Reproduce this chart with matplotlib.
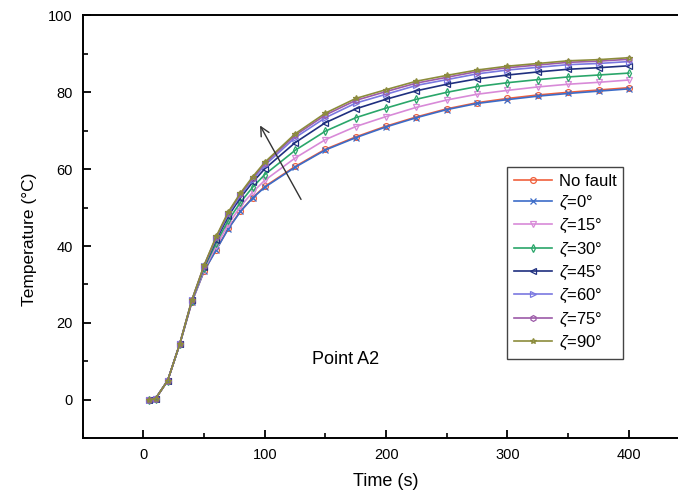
import matplotlib
matplotlib.use('Agg')
from matplotlib import pyplot as plt
from matplotlib.ticker import MultipleLocator

plt.rcParams['font.family'] = ['Liberation Sans', 'DejaVu Sans']
plt.rcParams['mathtext.fontset'] = 'custom'
plt.rcParams['mathtext.it'] = 'Liberation Sans:italic'
plt.rcParams['mathtext.rm'] = 'Liberation Sans'

# time points (s)
time = [5, 10, 20, 30, 40, 50, 60, 70, 80, 90, 100, 125, 150, 175, 200,
        225, 250, 275, 300, 325, 350, 375, 400]

# temperature (°C) for each case
no_fault = [0, 0.3, 5.0, 14.5, 25.5, 33.5, 39.1, 44.6, 49.1, 52.6, 55.5, 60.7, 65.2,
            68.4, 71.2, 73.6, 75.7, 77.3, 78.4, 79.3, 80.0, 80.6, 81.2]
zeta_0 = [0, 0.3, 5.0, 14.5, 25.5, 33.5, 39.0, 44.5, 49.0, 52.5, 55.3, 60.5, 65.0,
          68.2, 71.0, 73.4, 75.5, 77.1, 78.1, 79.0, 79.7, 80.3, 80.9]
zeta_15 = [0, 0.3, 5.0, 14.5, 25.6, 33.9, 40.0, 45.7, 50.3, 54.0, 57.1, 62.9, 67.7,
           71.1, 73.7, 76.1, 78.0, 79.5, 80.5, 81.4, 82.1, 82.6, 83.2]
zeta_30 = [0, 0.3, 5.0, 14.5, 25.8, 34.3, 40.8, 46.7, 51.4, 55.3, 58.6, 64.9, 69.9,
           73.4, 75.9, 78.2, 80.0, 81.5, 82.5, 83.3, 84.0, 84.5, 85.0]
zeta_45 = [0, 0.3, 5.0, 14.6, 25.9, 34.6, 41.6, 47.8, 52.6, 56.6, 60.1, 66.9, 72.1,
           75.7, 78.2, 80.4, 82.1, 83.5, 84.5, 85.3, 86.0, 86.4, 86.9]
zeta_60 = [0, 0.3, 5.0, 14.6, 25.9, 34.8, 42.1, 48.4, 53.2, 57.3, 61.0, 68.2, 73.4,
           77.2, 79.5, 81.8, 83.3, 84.8, 85.8, 86.5, 87.2, 87.5, 88.0]
zeta_75 = [0, 0.3, 5.0, 14.6, 26.0, 34.9, 42.3, 48.7, 53.6, 57.7, 61.5, 68.8, 74.1,
           77.9, 80.2, 82.4, 83.9, 85.4, 86.4, 87.1, 87.8, 88.1, 88.6]
zeta_90 = [0, 0.3, 5.0, 14.6, 26.0, 35.0, 42.5, 48.9, 53.8, 58.0, 61.8, 69.2, 74.6,
           78.4, 80.7, 82.9, 84.4, 85.8, 86.8, 87.5, 88.2, 88.5, 89.0]

series = [no_fault, zeta_0, zeta_15, zeta_30, zeta_45, zeta_60, zeta_75, zeta_90]
labels = ['No fault', '$\\zeta$=0°', '$\\zeta$=15°', '$\\zeta$=30°', '$\\zeta$=45°',
          '$\\zeta$=60°', '$\\zeta$=75°', '$\\zeta$=90°']
colors = ['#f0603c', '#3c6cc8', '#d88ad8', '#2aa66a', '#1f2f7f', '#7a78e0', '#9c5aa8', '#8c8c3c']
markers = ['o', 'x', 'v', 'd', '<', '>', 'h', '*']

fig = plt.figure(figsize=(6.78, 4.98), dpi=100)
ax = fig.add_axes([0.122, 0.12, 0.895, 0.849])

for y, lab, c, m in zip(series, labels, colors, markers):
    ax.plot(time, y, color=c, marker=m, markersize=4.2, markerfacecolor='none',
            markeredgewidth=0.9, linewidth=1.2, label=lab)

ax.set_xlim(-50, 450)
ax.set_ylim(-10, 100)
ax.xaxis.set_major_locator(MultipleLocator(100))
ax.xaxis.set_minor_locator(MultipleLocator(50))
ax.yaxis.set_major_locator(MultipleLocator(20))
ax.yaxis.set_minor_locator(MultipleLocator(10))
ax.tick_params(which='major', direction='in', length=6, width=1.3, labelsize=10.5, pad=7)
ax.tick_params(which='minor', direction='in', length=3.5, width=1.2)
ax.tick_params(top=False, right=False, which='both')
for s in ax.spines.values():
    s.set_linewidth(1.4)

ax.set_xlabel('Time (s)', fontsize=13, labelpad=8)
ax.set_ylabel('Temperature (°C)', fontsize=12.5, labelpad=8)
ax.yaxis.set_label_coords(-0.076, 0.47)

ax.annotate('', xy=(95, 72), xytext=(131, 51.5),
            arrowprops=dict(arrowstyle='->', color='#333333', lw=1.0, mutation_scale=16))
ax.text(139, 10.5, 'Point A2', fontsize=13, va='center')

leg = ax.legend(loc='upper left', bbox_to_anchor=(0.699, 0.641), fontsize=12,
                fancybox=False, framealpha=1, edgecolor='#444444', labelspacing=0.3,
                handlelength=2.3, handletextpad=0.4, borderpad=0.4, borderaxespad=0)
leg.get_frame().set_linewidth(1.0)

plt.savefig('out.png', dpi=100)
